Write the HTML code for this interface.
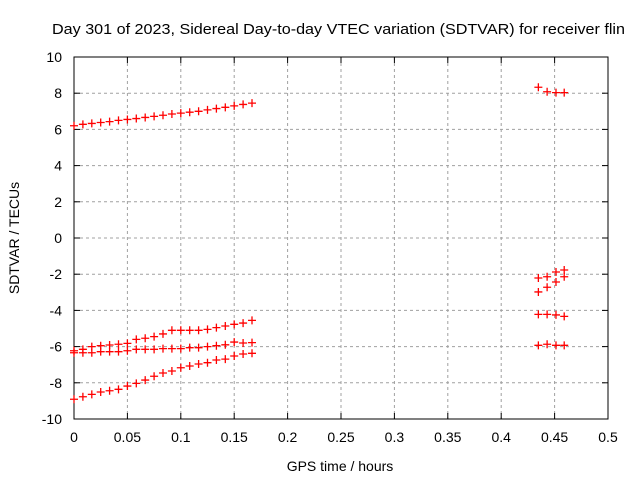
<!DOCTYPE html>
<html><head><meta charset="utf-8"><style>
body{margin:0;background:#fff;font-family:"Liberation Sans",sans-serif}
svg text{font-family:"Liberation Sans",sans-serif;font-size:14px;fill:#000}
</style></head><body>
<svg id="c" width="640" height="480" xmlns="http://www.w3.org/2000/svg"></svg>
<script>
const xTicks=[0,0.05,0.1,0.15,0.2,0.25,0.3,0.35,0.4,0.45,0.5];
const xTickLabels=["0","0.05","0.1","0.15","0.2","0.25","0.3","0.35","0.4","0.45","0.5"];
const yTicks=[-10,-8,-6,-4,-2,0,2,4,6,8,10];
const timesLeft=[0,0.00833,0.01667,0.025,0.03333,0.04167,0.05,0.05833,0.06667,0.075,0.08333,0.09167,0.1,0.10833,0.11667,0.125,0.13333,0.14167,0.15,0.15833,0.16667];
const timesRight=[0.4348,0.443,0.4513,0.459];
const seriesTop=[6.2,6.28,6.33,6.38,6.43,6.5,6.55,6.6,6.66,6.72,6.78,6.85,6.9,6.95,7.0,7.08,7.15,7.22,7.3,7.38,7.45];
const seriesA=[-6.23,-6.15,-6.0,-5.95,-5.91,-5.87,-5.82,-5.6,-5.54,-5.45,-5.3,-5.1,-5.1,-5.1,-5.1,-5.05,-4.95,-4.86,-4.77,-4.7,-4.55];
const seriesB=[-6.34,-6.34,-6.34,-6.28,-6.28,-6.28,-6.23,-6.15,-6.15,-6.15,-6.11,-6.11,-6.11,-6.06,-6.06,-6.0,-5.95,-5.9,-5.75,-5.8,-5.78];
const seriesC=[-8.91,-8.77,-8.64,-8.51,-8.44,-8.36,-8.18,-8.03,-7.85,-7.64,-7.46,-7.35,-7.17,-7.07,-6.96,-6.89,-6.74,-6.69,-6.52,-6.41,-6.37];
const rightTop=[8.33,8.08,8.03,8.03];
const rightR1=[-2.21,-2.14,-1.88,-1.77];
const rightR2=[-2.98,-2.72,-2.43,-2.14];
const rightR3=[-4.22,-4.22,-4.25,-4.33];
const rightR4=[-5.93,-5.87,-5.93,-5.93];
const L=74,R=608,T=57,B=419;
const sx=v=>L+(v-0)/(0.5)*(R-L);
const sy=v=>B-(v+10)/20*(B-T);
const svg=document.getElementById('c');
const NS="http://www.w3.org/2000/svg";
function mk(t,a,p){const e=document.createElementNS(NS,t);for(const k in a)e.setAttribute(k,a[k]);(p||svg).appendChild(e);return e;}
const grid=mk('g',{});


xTicks.forEach((v,i)=>{
  const x=sx(v);
  if(i>0&&i<xTicks.length-1)mk('line',{x1:x,y1:T,x2:x,y2:B,stroke:'#a0a0a0','stroke-dasharray':'3,3'},grid);
  mk('line',{x1:x,y1:B,x2:x,y2:B-6,stroke:'#000'});
  mk('line',{x1:x,y1:T,x2:x,y2:T+6,stroke:'#000'});
  const t=mk('text',{x:x,y:B+23,'text-anchor':'middle'});t.textContent=xTickLabels[i];
  
  
});
yTicks.forEach((v,i)=>{
  const y=sy(v);
  if(i>0&&i<yTicks.length-1)mk('line',{x1:L,y1:y,x2:R,y2:y,stroke:'#a0a0a0','stroke-dasharray':'3,3'},grid);
  mk('line',{x1:L,y1:y,x2:L+6,y2:y,stroke:'#000'});
  mk('line',{x1:R,y1:y,x2:R-6,y2:y,stroke:'#000'});
  const t=mk('text',{x:L-12,y:y+5,'text-anchor':'end'});t.textContent=String(v);
  
  
});
const frame=mk('rect',{x:L,y:T,width:R-L,height:B-T,fill:'none',stroke:'#000'});


const pts=mk('g',{stroke:'#f00','stroke-width':1.3});


function plot(xs,ys){xs.forEach((xv,i)=>{const x=sx(xv),y=sy(ys[i]);
  const p=mk('path',{d:`M${x-4},${y}H${x+4}M${x},${y-4}V${y+4}`},pts);
  
  });}
[seriesTop,seriesA,seriesB,seriesC].forEach(s=>plot(timesLeft,s));
[rightTop,rightR1,rightR2,rightR3,rightR4].forEach(s=>plot(timesRight,s));
let t=mk('text',{x:52,y:34,textLength:573,lengthAdjust:'spacingAndGlyphs',style:'font-size:15px'});t.textContent="Day 301 of 2023, Sidereal Day-to-day VTEC variation (SDTVAR) for receiver flin";

t=mk('text',{x:340,y:471,'text-anchor':'middle'});t.textContent="GPS time / hours";

t=mk('text',{x:0,y:0,'text-anchor':'middle',transform:'translate(19,238) rotate(-90)'});t.textContent="SDTVAR / TECUs";

</script>
</body></html>
